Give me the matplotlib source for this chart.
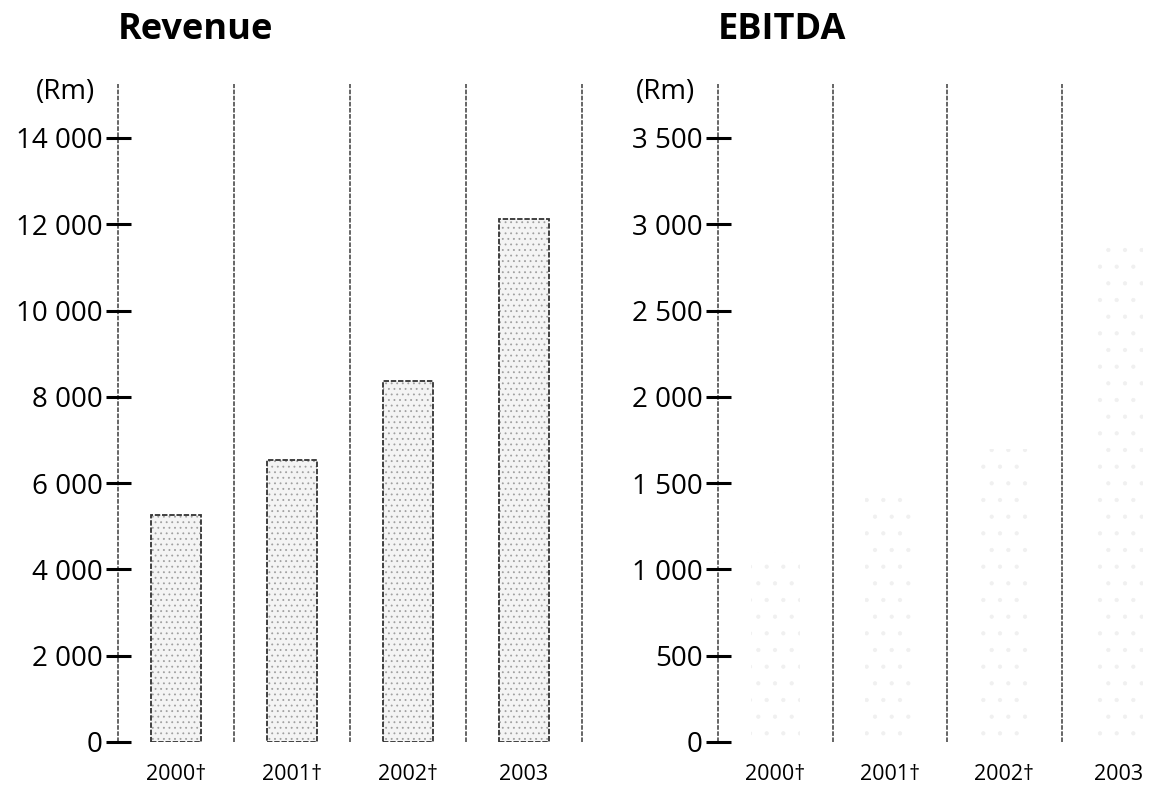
import matplotlib
import matplotlib.pyplot as plt

matplotlib.use("Agg")

plt.rcParams["font.family"] = ["Open Sans", "DejaVu Sans"]
plt.rcParams["hatch.linewidth"] = 0.6

# data (Rm)
years = ["2000\u2020", "2001\u2020", "2002\u2020", "2003"]
revenue = [5260, 6540, 8370, 12110]
ebitda = [1100, 1450, 1700, 2900]

revenue_ticks = [0, 2000, 4000, 6000, 8000, 10000, 12000, 14000]
ebitda_ticks = [0, 500, 1000, 1500, 2000, 2500, 3000, 3500]


def fmt(v):
    return f"{v:,}".replace(",", " ")


def draw_panel(ax, values, ticks, title, faint=False):
    x = list(range(len(values)))
    top = ticks[-1] * 15250 / 14000

    if faint:
        # scanned-out bars: only a few specks remain
        ax.bar(x, values, width=0.43, color="white", edgecolor="#f0f0f0",
               hatch=".", linewidth=0, zorder=2)
    else:
        ax.bar(x, values, width=0.43, color="#f4f4f4", edgecolor="#a0a0a0",
               hatch="...", linewidth=0, zorder=2)
        ax.bar(x, values, width=0.43, fill=False, edgecolor="#333333",
               linewidth=1.3, linestyle=(0, (3, 1)), zorder=3)

    # separators between the years
    for i in range(len(values) + 1):
        ax.axvline(i - 0.5, color="#3c3c3c", linewidth=1.1,
                   linestyle=(0, (3, 1)), clip_on=False, zorder=1)

    ax.set_xlim(-0.5, len(values) - 0.5)
    ax.set_ylim(0, top)
    for s in ax.spines.values():
        s.set_visible(False)

    ax.set_yticks(ticks)
    ax.set_yticklabels([fmt(t) for t in ticks], fontsize=20)
    ax.tick_params(axis="y", direction="inout", length=18, width=2.2,
                   color="black", pad=2)
    ax.set_xticks(x)
    ax.set_xticklabels(years, fontsize=15.5)
    ax.tick_params(axis="x", length=0, pad=16)

    ax.text(0, 1.0 + 54 / 658, title, transform=ax.transAxes, fontsize=26,
            fontweight="bold", ha="left", va="center")
    ax.text(-0.05, 1.0 - 8 / 658, "(Rm)", transform=ax.transAxes,
            fontsize=20, ha="right", va="center")


fig = plt.figure(figsize=(11.74, 7.88), dpi=100)
H = 658 / 788
B = 46 / 788
ax1 = fig.add_axes([118 / 1174, B, 464 / 1174, H])
ax2 = fig.add_axes([718 / 1174, B, 458 / 1174, H])

draw_panel(ax1, revenue, revenue_ticks, "Revenue")
draw_panel(ax2, ebitda, ebitda_ticks, "EBITDA", faint=True)

fig.savefig("out.png", dpi=100)
plt.close(fig)
